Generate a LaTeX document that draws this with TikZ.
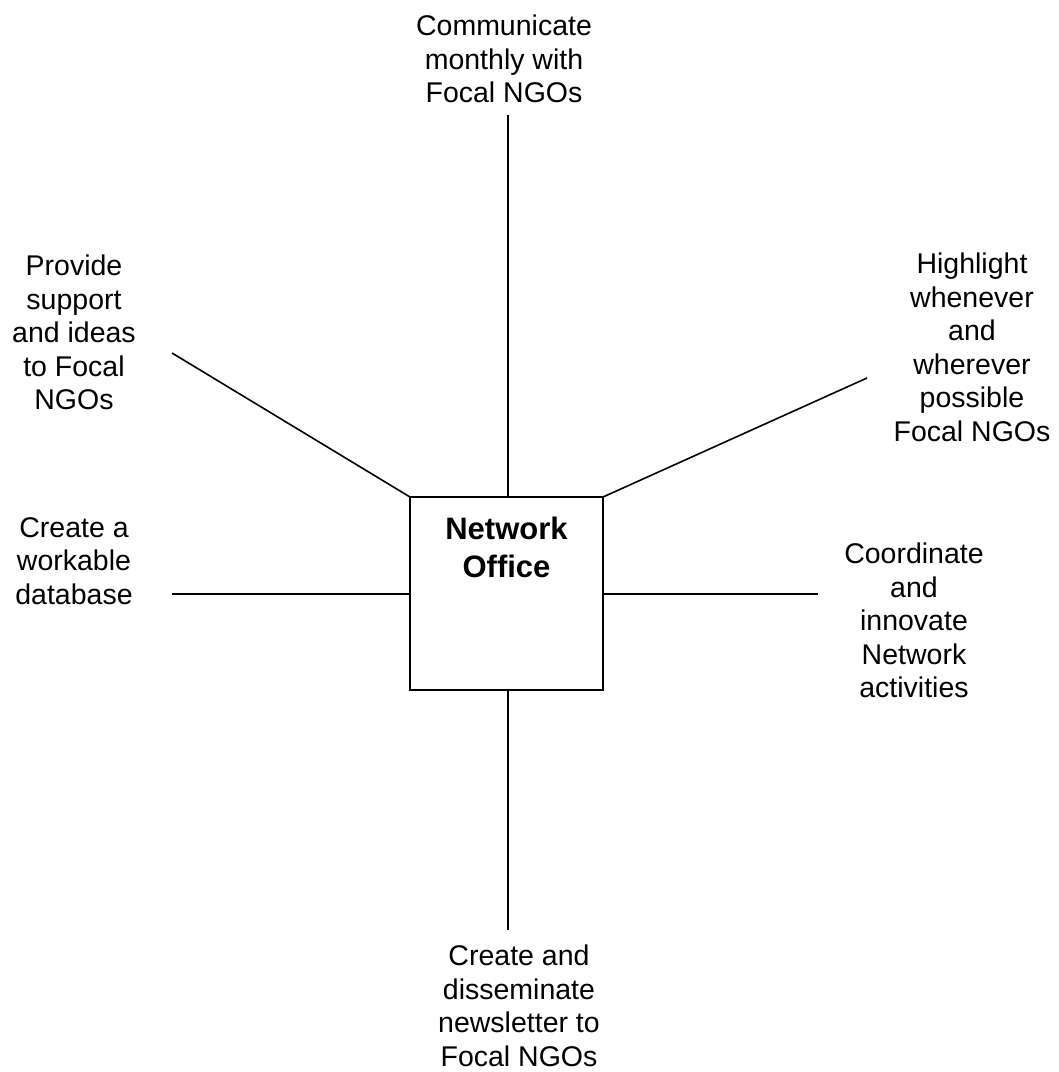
\documentclass[tikz,border=0pt]{standalone}
\usepackage{fontspec}
\setmainfont{Liberation Sans}
\begin{document}
\begin{tikzpicture}[x=1pt,y=-1pt,
  lbl/.style={anchor=north,inner sep=0pt,align=center,font=\fontsize{28.5}{33.5}\selectfont},
  officebox/.style={draw,line width=2pt,minimum width=193pt,minimum height=193pt,inner sep=0pt,outer sep=0pt},
  officetext/.style={anchor=north,inner sep=0pt,align=center,font=\fontsize{31}{38}\selectfont\bfseries},
  conn/.style={line width=1.6pt}]
\useasboundingbox (0,0) rectangle (1059,1072);
\node[officebox] (box) at (506.5,593.5) {};
\node[officetext] (office) at (506.5,517) {Network\\Office};
\node[lbl] (top) at (504,15) {Communicate\\monthly with\\Focal NGOs};
\node[lbl] (ul) at (74,255) {Provide\\support\\and ideas\\to Focal\\NGOs};
\node[lbl] (left) at (74,517) {Create a\\workable\\database};
\node[lbl] (ur) at (972,253) {Highlight\\whenever\\and\\wherever\\possible\\Focal NGOs};
\node[lbl] (right) at (914,543) {Coordinate\\and\\innovate\\Network\\activities};
\node[lbl] (bottom) at (519,945) {Create and\\disseminate\\newsletter to\\Focal NGOs};
\coordinate (tEnd) at (508,115);
\coordinate (bEnd) at (508,930);
\coordinate (ulEnd) at (172,353);
\coordinate (urEnd) at (867,378);
\coordinate (lEnd) at (172,594);
\coordinate (rEnd) at (818,594);
\draw[conn] (tEnd) -- (tEnd |- box.north);
\draw[conn] (bEnd) -- (bEnd |- box.south);
\draw[conn] (ulEnd) -- (box.north west);
\draw[conn] (urEnd) -- (box.north east);
\draw[conn] (lEnd) -- (lEnd -| box.west);
\draw[conn] (rEnd) -- (rEnd -| box.east);
\end{tikzpicture}
\end{document}
